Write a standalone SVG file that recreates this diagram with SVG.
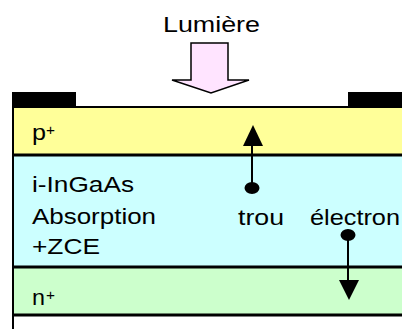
<svg xmlns="http://www.w3.org/2000/svg" width="402" height="329" viewBox="0 0 402 329">
<style>
.t{font-family:"Liberation Sans",Arial,sans-serif;font-size:22px;fill:#000}
.sup{font-family:"Liberation Sans",Arial,sans-serif;font-size:15px;fill:#000}
.ln{stroke:#000;fill:none}
.dot{fill:#000}
.head{fill:#000}
</style>
<rect width="402" height="329" fill="#fff"/>
<g id="lumiere">
<text class="t" x="163" y="32" textLength="97" lengthAdjust="spacingAndGlyphs">Lumière</text>
<polygon points="191,43 228,43 228,80 249,80 211,93 172,80 191,80" fill="#FFE4FF" stroke="#000" stroke-width="1.5" stroke-linejoin="miter"/>
</g>
<g id="layer-p">
<rect x="13" y="107" width="389" height="48" fill="#FFFF99"/>
<text class="t" x="32" y="140" textLength="14" lengthAdjust="spacingAndGlyphs">p</text>
<text class="sup" x="46" y="135" textLength="9" lengthAdjust="spacingAndGlyphs">+</text>
</g>
<g id="layer-i">
<rect x="13" y="155" width="389" height="112" fill="#CCFFFF"/>
<text class="t" x="32" y="192" textLength="102" lengthAdjust="spacingAndGlyphs">i-InGaAs</text>
<text class="t" x="32" y="224" textLength="124" lengthAdjust="spacingAndGlyphs">Absorption</text>
<text class="t" x="32" y="254" textLength="68" lengthAdjust="spacingAndGlyphs">+ZCE</text>
<text class="t" x="238" y="225" textLength="46" lengthAdjust="spacingAndGlyphs">trou</text>
<text class="t" x="310" y="225" textLength="90" lengthAdjust="spacingAndGlyphs">électron</text>
</g>
<g id="layer-n">
<rect x="13" y="267" width="389" height="48" fill="#CCFFCC"/>
<text class="t" x="32" y="305" textLength="13" lengthAdjust="spacingAndGlyphs">n</text>
<text class="sup" x="46" y="300" textLength="9" lengthAdjust="spacingAndGlyphs">+</text>
</g>
<g id="contacts">
<rect x="13" y="92" width="63" height="16" fill="#000"/>
<rect x="348" y="92" width="54" height="16" fill="#000"/>
</g>
<g id="borders">
<line class="ln" x1="13" y1="107" x2="402" y2="107" stroke-width="2"/>
<line class="ln" x1="13" y1="155" x2="402" y2="155" stroke-width="3"/>
<line class="ln" x1="13" y1="267" x2="402" y2="267" stroke-width="3"/>
<line class="ln" x1="13" y1="315" x2="402" y2="315" stroke-width="3"/>
<line class="ln" x1="13" y1="92" x2="13" y2="329" stroke-width="2"/>
</g>
<g id="connectors">
<line class="ln" x1="252" y1="188" x2="252" y2="145" stroke-width="2"/>
<polygon class="head" points="243,146 263,146 253,125"/>
<ellipse class="dot" cx="252" cy="188" rx="7.5" ry="6"/>
<line class="ln" x1="348" y1="235" x2="348" y2="281" stroke-width="2"/>
<polygon class="head" points="339,280 359,280 349,300"/>
<ellipse class="dot" cx="348" cy="235" rx="7.5" ry="6"/>
</g>
</svg>
